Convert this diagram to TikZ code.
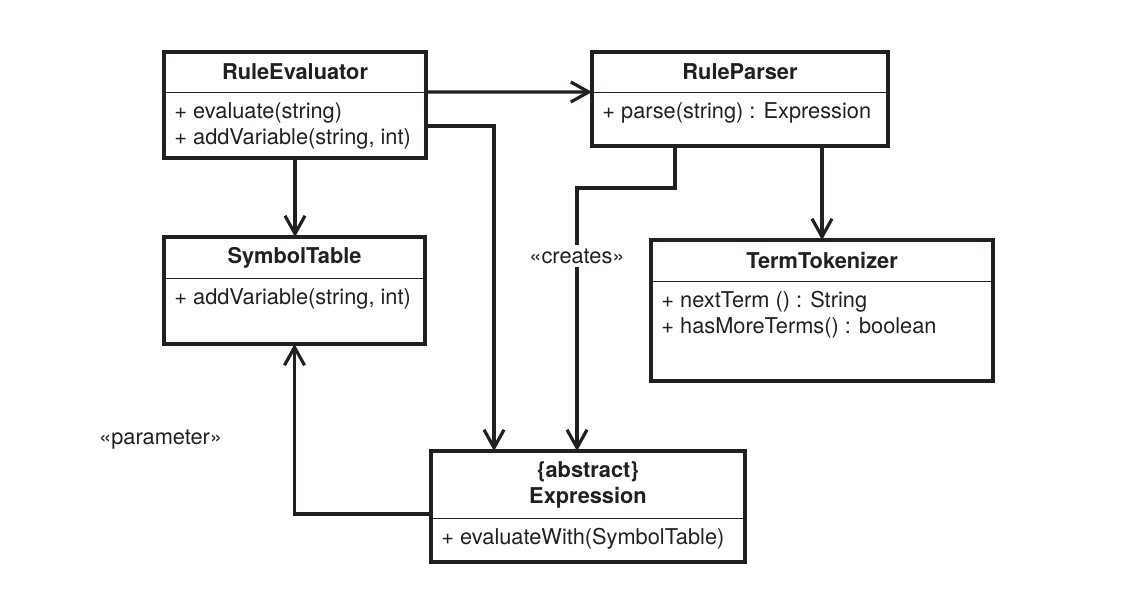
\documentclass[tikz,border=0pt]{standalone}
\usepackage{fontspec}
\setmainfont{TeX Gyre Heros}
\usetikzlibrary{arrows.meta,positioning}
\definecolor{umlink}{RGB}{35,31,32}
\newcommand{\umlsize}{\fontsize{12.4}{14.8}\selectfont}
\tikzset{
 classbox/.style={
 rectangle,
 draw=umlink,
 line width=1.9pt,
 inner sep=0pt,
 outer sep=0pt
 },
 classhead/.style={
 rectangle,
 draw=umlink,
 line width=0.5pt,
 anchor=north,
 align=center,
 inner sep=0pt,
 outer sep=0pt,
 font=\umlsize\bfseries,
 text=umlink
 },
 classbody/.style={
 anchor=north west,
 align=left,
 inner xsep=0.2cm,
 inner ysep=0.2cm,
 font=\umlsize,
 text=umlink
 },
 stereo/.style={fill=white, inner sep=2pt, font=\umlsize, text=umlink},
 assoc/.style={-{Straight Barb[length=3.6mm,width=4mm]}, line width=1.8pt, draw=umlink}
}

\begin{document}
\begin{tikzpicture}[x=0.02cm, y=-0.02cm]
	\useasboundingbox (0,0) rectangle (1138,590);

	\node[classbox, minimum width=5.24cm, minimum height=2.12cm] (evaluator) at (295,105) {};
	\node[classhead, minimum width=5.24cm, minimum height=0.8cm] (evalhead) at (evaluator.north) {RuleEvaluator};
	\node[classbody] (evalbody) at (evalhead.south west) {+ evaluate(string)\\+ addVariable(string, int)};

	\node[classbox, minimum width=5.92cm, minimum height=1.88cm] (parser) at (740,99) {};
	\node[classhead, minimum width=5.92cm, minimum height=0.8cm] (parserhead) at (parser.north) {RuleParser};
	\node[classbody] (parserbody) at (parserhead.south west) {+ parse(string) : Expression};

	\node[classbox, minimum width=5.22cm, minimum height=2.14cm] (symtable) at (294.5,290.5) {};
	\node[classhead, minimum width=5.22cm, minimum height=0.82cm] (symhead) at (symtable.north) {SymbolTable};
	\node[classbody] (symbody) at (symhead.south west) {+ addVariable(string, int)};

	\node[classbox, minimum width=6.84cm, minimum height=2.82cm] (tokenizer) at (822,310.5) {};
	\node[classhead, minimum width=6.84cm, minimum height=0.82cm] (tokhead) at (tokenizer.north) {TermTokenizer};
	\node[classbody] (tokbody) at (tokhead.south west) {+ nextTerm () : String\\+ hasMoreTerms() : boolean};

	\node[classbox, minimum width=6.28cm, minimum height=2.22cm] (expression) at (588,506.5) {};
	\node[classhead, minimum width=6.28cm, minimum height=1.34cm] (exprhead) at (expression.north) {\{abstract\}\\Expression};
	\node[classbody] (exprbody) at (exprhead.south west) {+ evaluateWith(SymbolTable)};

	\draw[assoc] (evalhead.south east) -- (parserhead.south west);
	\draw[assoc] ([yshift=-0.42cm]evaluator.east) -| ([xshift=-1.88cm]expression.north);
	\draw[assoc] (evaluator.south) -- (evaluator.south |- symtable.north);
	\draw[assoc] ([xshift=-1.3cm]parser.south) -- ++(0,42) -| node[stereo, pos=0.63] (createslbl) {«creates»} ([xshift=-0.22cm]expression.north);
	\draw[assoc] (tokenizer.north |- parser.south) -- (tokenizer.north);
	\draw[assoc] ([yshift=-0.15cm]expression.west) -| node[pos=0.72, left=1.3cm, font=\umlsize, text=umlink] (paramlbl) {«parameter»} (symtable.south);
\end{tikzpicture}
\end{document}
